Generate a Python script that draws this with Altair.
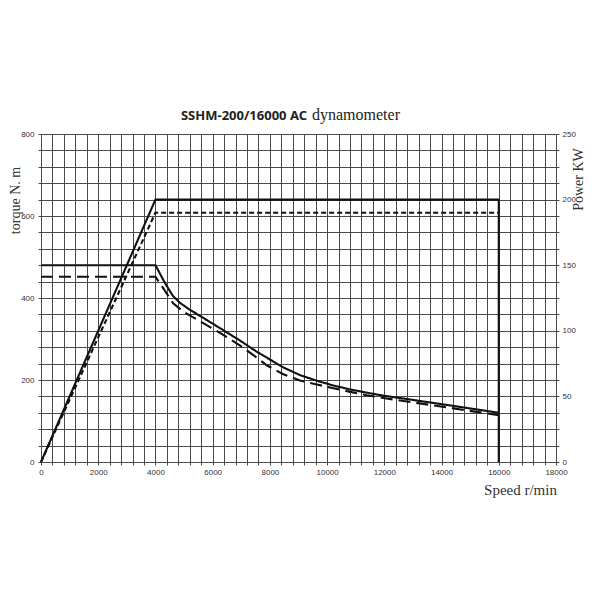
import altair as alt
import pandas as pd

# ---- data ----
torque_speed = [0, 4000, 4330, 4610, 4860, 5210, 5800, 6360, 6960, 7520, 8000, 8460,
                9050, 9650, 10200, 10800, 11400, 11950, 12550, 14300, 16000]
torque_val = [480, 480, 437, 405, 388, 371, 346, 322, 296, 270, 250, 231,
              212, 198, 187, 177, 169, 162, 156, 138, 120]

torque2_speed = [0, 4000, 4270, 4620, 4970, 5790, 6370, 6960, 7470, 7890, 8470,
                 9050, 9640, 10220, 10800, 11380, 11970, 12550, 14300, 16000]
torque2_val = [452, 452, 424, 387, 367, 334, 310, 284, 258, 236, 214,
               199, 189, 180, 171, 163, 156, 150, 132, 114]

power_speed = [0, 4000, 16000, 16000]
power_val = [0, 200, 200, 0]

power2_speed = [0, 4000, 16000]
power2_val = [0, 190, 190]

x_grid = list(range(0, 18001, 400))
y_grid = list(range(0, 801, 40))
p_grid = [i * 12.5 for i in range(21)]

title_bold = "SSHM-200/16000 AC"
title_rest = "dynamometer"


def frame(xs, ys, name):
    return pd.DataFrame({"speed": xs, "val": ys, "i": list(range(len(xs))),
                         "s": [name] * len(xs)})


torque_df = pd.concat([frame(torque_speed, torque_val, "a"),
                       frame(torque2_speed, torque2_val, "b")], ignore_index=True)
power_df = pd.concat([frame(power_speed, power_val, "a"),
                      frame(power2_speed, power2_val, "b")], ignore_index=True)

INK = "#111111"
GRID = "#4a4a4a"

xscale = alt.Scale(domain=[0, 18000], nice=False, zero=True)
x_axis = alt.Axis(values=x_grid, labelExpr="datum.value % 2000 == 0 ? datum.label : ''",
                  grid=True, gridColor=GRID, gridWidth=1, domainColor=GRID,
                  tickColor=GRID, tickSize=3, labelFont="Liberation Sans", labelFontSize=8,
                  labelColor="#333333", labelPadding=3, labelFlush=False,
                  labelOverlap=False, format="d",
                  title="Speed r/min", titleFont="Liberation Serif", titleFontSize=15,
                  titleFontWeight="normal", titleColor="#333333",
                  titleX=479, titleY=27, titleAlign="center", titleBaseline="middle")

tscale = alt.Scale(domain=[0, 800], nice=False)
pscale = alt.Scale(domain=[0, 250], nice=False)

t_axis = alt.Axis(values=y_grid, labelExpr="datum.value % 200 == 0 ? datum.label : ''",
                  grid=True, gridColor=GRID, gridWidth=1, domainColor=GRID, tickColor=GRID,
                  tickSize=3, labelFont="Liberation Sans", labelFontSize=8, labelColor="#333333",
                  labelPadding=4, labelOverlap=False, format="d", orient="left",
                  title="torque N. m", titleFont="Liberation Serif", titleFontSize=14,
                  titleFontWeight="normal", titleColor="#333333", titleAngle=270,
                  titleX=-26, titleY=66, titleAlign="center", titleBaseline="middle")

p_axis = alt.Axis(values=p_grid, labelExpr="datum.value % 50 == 0 ? datum.label : ''",
                  grid=False, domainColor=GRID, tickColor=GRID, tickSize=3,
                  labelFont="Liberation Sans", labelFontSize=8, labelColor="#333333",
                  labelPadding=3, labelOverlap=False, format="d", orient="right",
                  title="Power KW", titleFont="Liberation Serif", titleFontSize=14,
                  titleFontWeight="normal", titleColor="#333333", titleAngle=270,
                  titleX=22, titleY=45, titleAlign="center", titleBaseline="middle")

torque_layer = alt.Chart(torque_df).mark_line(color=INK, strokeWidth=2.1).encode(
    x=alt.X("speed:Q", scale=xscale, axis=x_axis),
    y=alt.Y("val:Q", scale=tscale, axis=t_axis),
    strokeDash=alt.StrokeDash("s:N", scale=alt.Scale(domain=["a", "b"], range=[[1, 0], [12, 6]]),
                              legend=None),
    order="i:Q",
)

power_layer = alt.Chart(power_df).mark_line(color=INK, strokeWidth=2.1).encode(
    x=alt.X("speed:Q", scale=xscale, axis=x_axis),
    y=alt.Y("val:Q", scale=pscale, axis=p_axis),
    strokeDash=alt.StrokeDash("s:N", scale=alt.Scale(domain=["a", "b"], range=[[1, 0], [5, 3]]),
                              legend=None),
    order="i:Q",
)

tdf = pd.DataFrame({"a": [title_bold], "b": [title_rest]})
t1 = alt.Chart(tdf).mark_text(align="right", baseline="alphabetic", font="Noto Sans",
                              fontWeight="bold", fontSize=13, color="#222222").encode(
    x=alt.value(266), y=alt.value(-14), text="a:N")
t2 = alt.Chart(tdf).mark_text(align="left", baseline="alphabetic", font="Liberation Serif",
                              fontSize=16, color="#222222").encode(
    x=alt.value(271), y=alt.value(-14), text="b:N")

chart = alt.layer(torque_layer, power_layer, t1, t2).resolve_scale(
    y="independent", strokeDash="independent"
).properties(
    width=515, height=328,
    padding={"left": 33, "top": 126, "right": 36, "bottom": 50},
    autosize="none",
).configure_view(stroke=None).configure(background="white")

chart.save("out.html", embed_options={"renderer": "svg", "actions": False})
